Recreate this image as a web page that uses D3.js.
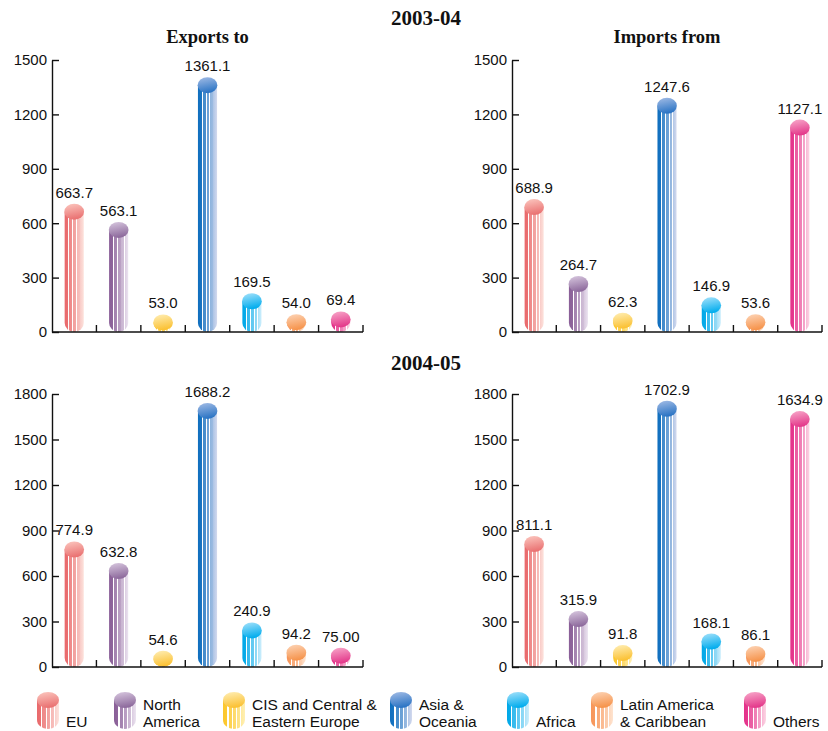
<!DOCTYPE html>
<html>
<head>
<meta charset="utf-8">
<script src="https://cdn.jsdelivr.net/npm/d3@7"></script>
<style>
  html, body { margin: 0; padding: 0; background: #fff; }
  svg { display: block; }
  .num { font-family: "Liberation Sans", Arial, Helvetica, sans-serif; fill: #111; }
  .ttl { font-family: "Liberation Serif", "Times New Roman", serif; font-weight: bold; fill: #111; }
</style>
</head>
<body>
<svg id="chart" width="828" height="731"></svg>
<script>
// Regions (one bar per region in every panel)
const categories = ["EU", "North America", "CIS and Central & Eastern Europe", "Asia & Oceania", "Africa", "Latin America & Caribbean", "Others"];
const legendLines = [["EU"], ["North", "America"], ["CIS and Central &", "Eastern Europe"], ["Asia &", "Oceania"], ["Africa"], ["Latin America", "& Caribbean"], ["Others"]];

// Values as printed (the label text is also the bar value)
const exports0304 = ["663.7", "563.1", "53.0", "1361.1", "169.5", "54.0", "69.4"];
const imports0304 = ["688.9", "264.7", "62.3", "1247.6", "146.9", "53.6", "1127.1"];
const exports0405 = ["774.9", "632.8", "54.6", "1688.2", "240.9", "94.2", "75.00"];
const imports0405 = ["811.1", "315.9", "91.8", "1702.9", "168.1", "86.1", "1634.9"];

const ticks0304 = [0, 300, 600, 900, 1200, 1500];
const ticks0405 = [0, 300, 600, 900, 1200, 1500, 1800];

const yearTitles = ["2003-04", "2004-05"];
const panelTitles = ["Exports to", "Imports from"];

// Dark (left edge) and light (right edge) tone for each region
const darkTones  = ["#e96a6c", "#8a5f98", "#fcc72c", "#0f6fbf", "#00a8e8", "#f7965a", "#e4318a"];
const lightTones = ["#fde2dc", "#ebe3f0", "#fff0b4", "#d3d9ee", "#cdeefc", "#fee4d0", "#fcd5e4"];
const capTops    = ["#fcc8c0", "#d9c9e0", "#ffefb8", "#a4bde6", "#a6e2fb", "#fdd5b8", "#f8aacb"];
const capBottoms = ["#ea7474", "#8f6c9e", "#fbc236", "#2e76c5", "#05aeee", "#f6954e", "#e43b8c"];

const svg = d3.select("#chart");
const defs = svg.append("defs");

// Striped cylinder fill and shaded cap for each region
categories.forEach((c, i) => {
  const mix = t => d3.interpolateRgb(darkTones[i], lightTones[i])(t);
  const g = defs.append("linearGradient").attr("id", "body" + i)
    .attr("x1", 0).attr("x2", 1).attr("y1", 0).attr("y2", 0);
  const stops = [
    [0, mix(0)], [0.2, mix(0.05)], [0.2, "#fff"], [0.25, "#fff"],
    [0.25, mix(0.25)], [0.41, mix(0.3)], [0.41, "#fff"], [0.46, "#fff"],
    [0.46, mix(0.45)], [0.6, mix(0.5)], [0.6, "#fff"], [0.64, "#fff"],
    [0.64, mix(0.65)], [0.78, mix(0.72)], [0.78, "#fff"], [0.81, "#fff"],
    [0.81, mix(0.82)], [1, mix(1)]
  ];
  stops.forEach(s => g.append("stop").attr("offset", s[0]).attr("stop-color", s[1]));

  const cg = defs.append("linearGradient").attr("id", "cap" + i)
    .attr("x1", 0).attr("x2", 0.25).attr("y1", 0).attr("y2", 1);
  cg.append("stop").attr("offset", 0).attr("stop-color", capTops[i]);
  cg.append("stop").attr("offset", 1).attr("stop-color", capBottoms[i]);
});

// Cylinder body: flat top, rounded bottom
function bodyPath(cx, w, top, bottom) {
  const h = bottom - top;
  const rx = w / 2, ry = Math.max(0, Math.min(9, h));
  const x0 = cx - rx, x1 = cx + rx;
  return `M${x0},${top}H${x1}V${bottom - ry}A${rx},${ry} 0 0 1 ${cx},${bottom}A${rx},${ry} 0 0 1 ${x0},${bottom - ry}Z`;
}

const panels = [
  { values: exports0304, ticks: ticks0304, x0: 52,  x1: 363, yTop: 60,  yBot: 332, title: panelTitles[0] },
  { values: imports0304, ticks: ticks0304, x0: 512, x1: 822, yTop: 60,  yBot: 332, title: panelTitles[1] },
  { values: exports0405, ticks: ticks0405, x0: 52,  x1: 363, yTop: 394, yBot: 667, title: null },
  { values: imports0405, ticks: ticks0405, x0: 512, x1: 822, yTop: 394, yBot: 667, title: null }
];

// Year headings
svg.append("text").attr("class", "ttl").attr("x", 426).attr("y", 25)
  .attr("text-anchor", "middle").style("font-size", "21px").text(yearTitles[0]);
svg.append("text").attr("class", "ttl").attr("x", 426).attr("y", 370)
  .attr("text-anchor", "middle").style("font-size", "21px").text(yearTitles[1]);

panels.forEach((p, pi) => {
  const x = d3.scaleBand().domain(categories).range([p.x0, p.x1]).padding(0);
  const y = d3.scaleLinear().domain([0, d3.max(p.ticks)]).range([p.yBot, p.yTop]);
  const g = svg.append("g");
  const clipId = "clip" + pi;
  defs.append("clipPath").attr("id", clipId).append("rect")
    .attr("x", p.x0).attr("y", 0).attr("width", p.x1 - p.x0).attr("height", p.yBot);

  if (p.title) {
    g.append("text").attr("class", "ttl").attr("x", (p.x0 + p.x1) / 2).attr("y", 43)
      .attr("text-anchor", "middle").style("font-size", "18.5px").text(p.title);
  }

  // Bars
  const bw = x.bandwidth() * 0.43;
  const bars = g.append("g").attr("clip-path", `url(#${clipId})`)
    .selectAll("g").data(categories).join("g");
  bars.append("path")
    .attr("d", (c, i) => bodyPath(x(c) + x.bandwidth() / 2, bw, y(+p.values[i]), y(0)))
    .attr("fill", (c, i) => `url(#body${i})`);
  bars.append("ellipse")
    .attr("cx", c => x(c) + x.bandwidth() / 2)
    .attr("cy", (c, i) => y(+p.values[i]))
    .attr("rx", bw / 2 + 0.3).attr("ry", 8)
    .attr("fill", (c, i) => `url(#cap${i})`);

  // Value labels
  g.selectAll(".val").data(categories).join("text")
    .attr("class", "num val")
    .attr("x", c => x(c) + x.bandwidth() / 2)
    .attr("y", (c, i) => y(+p.values[i]) - 14)
    .attr("text-anchor", "middle").style("font-size", "15px")
    .text((c, i) => p.values[i]);

  // Y axis with inward ticks
  const yAxis = d3.axisLeft(y).tickValues(p.ticks).tickFormat(d3.format("d"))
    .tickSize(-7).tickPadding(5).tickSizeOuter(0);
  const ya = g.append("g").attr("transform", `translate(${p.x0},0)`).call(yAxis);
  ya.select(".domain").attr("stroke", "#111").attr("stroke-width", 1.4);
  ya.selectAll(".tick line").attr("stroke", "#111").attr("stroke-width", 1.4);
  ya.selectAll(".tick text").attr("class", "num").attr("fill", "#111")
    .style("font-size", "15px").style("font-family", "'Liberation Sans', Arial, sans-serif");

  // X axis: baseline with upward ticks at band edges
  const edges = categories.slice(1).map(c => x(c)).concat([p.x1]);
  g.append("line").attr("x1", p.x0).attr("x2", p.x1).attr("y1", y(0)).attr("y2", y(0))
    .attr("stroke", "#111").attr("stroke-width", 1.4);
  g.selectAll(".xt").data(edges).join("line")
    .attr("x1", d => d).attr("x2", d => d).attr("y1", y(0)).attr("y2", y(0) - 7)
    .attr("stroke", "#111").attr("stroke-width", 1.4);
});

// Legend
const legendX = [37, 114, 223, 390, 507, 591, 744];
const lg = svg.append("g");
categories.forEach((c, i) => {
  const cx = legendX[i] + 11, w = 22, top = 700, bottom = 729;
  lg.append("path").attr("d", bodyPath(cx, w, top, bottom)).attr("fill", `url(#body${i})`);
  lg.append("ellipse").attr("cx", cx).attr("cy", top).attr("rx", w / 2).attr("ry", 8)
    .attr("fill", `url(#cap${i})`);
  const lines = legendLines[i];
  const t = lg.append("text").attr("class", "num").style("font-size", "15.5px");
  lines.forEach((ln, k) => {
    t.append("tspan").attr("x", legendX[i] + 29)
      .attr("y", 727 - (lines.length - 1 - k) * 17).text(ln);
  });
});
</script>
</body>
</html>
